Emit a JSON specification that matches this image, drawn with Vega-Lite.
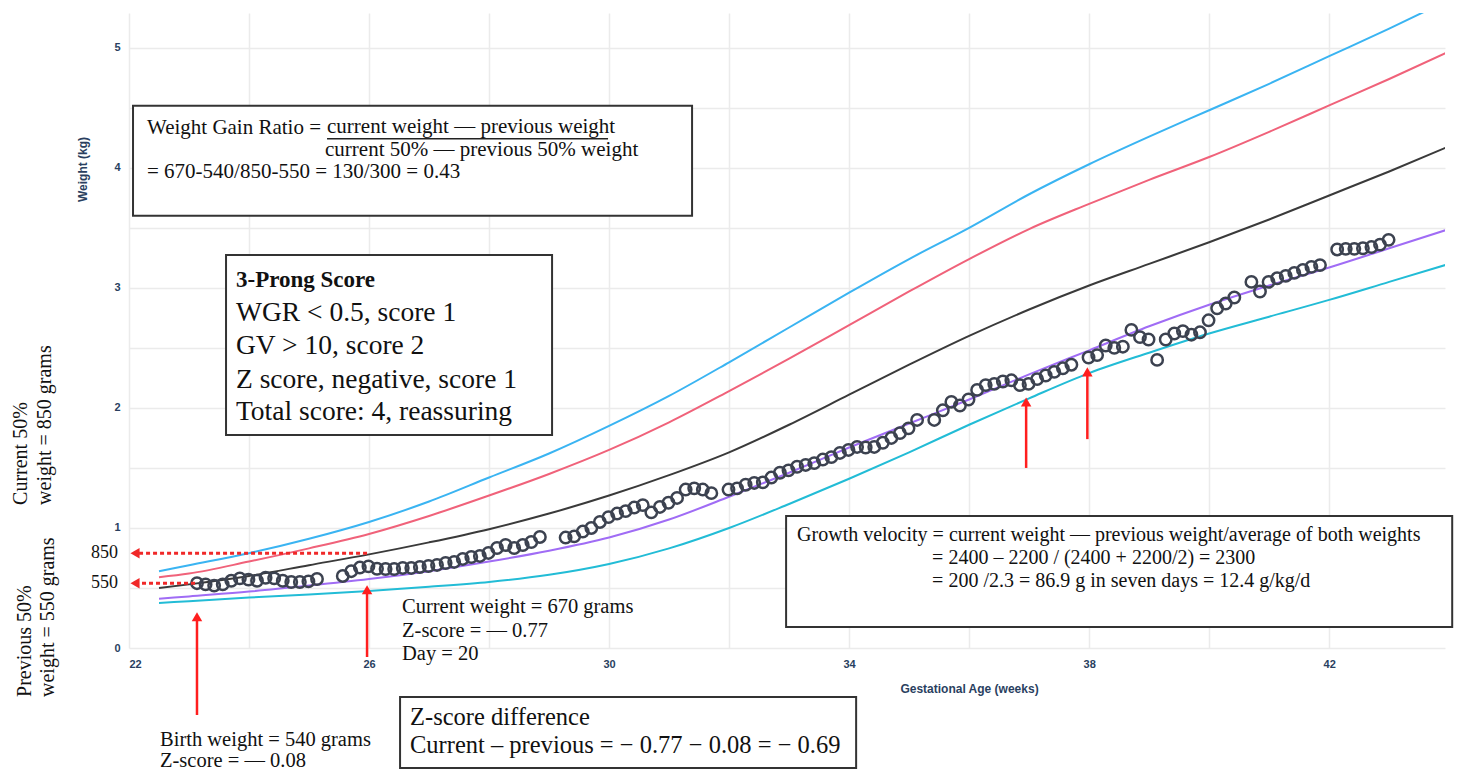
{
  "$schema": "https://vega.github.io/schema/vega-lite/v6.json",
  "width": 1316,
  "height": 635,
  "autosize": "none",
  "padding": {"left": 129, "top": 13, "right": 30, "bottom": 122},
  "background": "white",
  "config": {"view": {"stroke": null}},
  "datasets": {
    "pts": [
      {"w":23.133,"kg":0.54},{"w":23.276,"kg":0.53},{"w":23.419,"kg":0.52},{"w":23.562,"kg":0.53},{"w":23.704,"kg":0.56},{"w":23.847,"kg":0.58},{"w":23.99,"kg":0.57},{"w":24.133,"kg":0.56},{"w":24.276,"kg":0.585},{"w":24.419,"kg":0.58},{"w":24.562,"kg":0.56},{"w":24.704,"kg":0.55},{"w":24.847,"kg":0.55},{"w":24.99,"kg":0.555},{"w":25.133,"kg":0.575},
      {"w":25.562,"kg":0.6},{"w":25.704,"kg":0.64},{"w":25.847,"kg":0.67},{"w":25.99,"kg":0.68},{"w":26.133,"kg":0.66},{"w":26.276,"kg":0.658},{"w":26.419,"kg":0.658},{"w":26.562,"kg":0.667},{"w":26.704,"kg":0.667},{"w":26.847,"kg":0.675},{"w":26.99,"kg":0.683},{"w":27.133,"kg":0.692},{"w":27.276,"kg":0.708},{"w":27.419,"kg":0.717},{"w":27.562,"kg":0.742},{"w":27.704,"kg":0.758},{"w":27.847,"kg":0.767},{"w":27.99,"kg":0.792},{"w":28.133,"kg":0.833},{"w":28.276,"kg":0.858},{"w":28.419,"kg":0.833},{"w":28.562,"kg":0.858},{"w":28.704,"kg":0.883},{"w":28.847,"kg":0.925},
      {"w":29.276,"kg":0.92},{"w":29.419,"kg":0.93},{"w":29.562,"kg":0.97},{"w":29.704,"kg":1.0},{"w":29.847,"kg":1.05},{"w":29.99,"kg":1.09},{"w":30.133,"kg":1.12},{"w":30.276,"kg":1.14},{"w":30.419,"kg":1.17},{"w":30.562,"kg":1.19},{"w":30.704,"kg":1.13},{"w":30.847,"kg":1.175},{"w":30.99,"kg":1.21},{"w":31.133,"kg":1.25},{"w":31.276,"kg":1.32},{"w":31.419,"kg":1.33},{"w":31.562,"kg":1.32},{"w":31.704,"kg":1.29},
      {"w":31.99,"kg":1.32},{"w":32.133,"kg":1.33},{"w":32.276,"kg":1.36},{"w":32.419,"kg":1.375},{"w":32.562,"kg":1.38},{"w":32.704,"kg":1.42},{"w":32.847,"kg":1.46},{"w":32.99,"kg":1.48},{"w":33.133,"kg":1.51},{"w":33.276,"kg":1.525},{"w":33.419,"kg":1.54},{"w":33.562,"kg":1.57},{"w":33.704,"kg":1.59},{"w":33.847,"kg":1.625},{"w":33.99,"kg":1.65},{"w":34.133,"kg":1.675},{"w":34.276,"kg":1.67},{"w":34.419,"kg":1.675},{"w":34.562,"kg":1.71},{"w":34.704,"kg":1.75},{"w":34.847,"kg":1.79},{"w":34.99,"kg":1.83},{"w":35.133,"kg":1.9},
      {"w":35.419,"kg":1.9},{"w":35.562,"kg":1.98},{"w":35.704,"kg":2.05},{"w":35.847,"kg":2.02},{"w":35.99,"kg":2.07},{"w":36.133,"kg":2.15},{"w":36.276,"kg":2.19},{"w":36.419,"kg":2.2},{"w":36.562,"kg":2.22},{"w":36.704,"kg":2.23},{"w":36.847,"kg":2.19},{"w":36.99,"kg":2.2},{"w":37.133,"kg":2.24},{"w":37.276,"kg":2.27},{"w":37.419,"kg":2.3},{"w":37.562,"kg":2.33},{"w":37.704,"kg":2.36},
      {"w":37.99,"kg":2.42},{"w":38.133,"kg":2.44},{"w":38.276,"kg":2.52},{"w":38.419,"kg":2.5},{"w":38.562,"kg":2.51},{"w":38.704,"kg":2.65},{"w":38.847,"kg":2.59},{"w":38.99,"kg":2.57},{"w":39.133,"kg":2.4},{"w":39.276,"kg":2.57},{"w":39.419,"kg":2.62},{"w":39.562,"kg":2.64},{"w":39.704,"kg":2.61},{"w":39.847,"kg":2.63},{"w":39.99,"kg":2.73},{"w":40.133,"kg":2.83},{"w":40.276,"kg":2.87},{"w":40.419,"kg":2.92},
      {"w":40.704,"kg":3.05},{"w":40.847,"kg":2.97},{"w":40.99,"kg":3.05},{"w":41.133,"kg":3.08},{"w":41.276,"kg":3.1},{"w":41.419,"kg":3.125},{"w":41.562,"kg":3.15},{"w":41.704,"kg":3.175},{"w":41.847,"kg":3.19},
      {"w":42.133,"kg":3.32},{"w":42.276,"kg":3.325},{"w":42.419,"kg":3.325},{"w":42.562,"kg":3.33},{"w":42.704,"kg":3.34},{"w":42.847,"kg":3.36},{"w":42.99,"kg":3.4}
    ],
    "curves": [
      {"c":"p97","w":22.5,"kg":0.64},{"c":"p97","w":23,"kg":0.69},{"c":"p97","w":24,"kg":0.79},{"c":"p97","w":25,"kg":0.91},{"c":"p97","w":26,"kg":1.05},{"c":"p97","w":27,"kg":1.22},{"c":"p97","w":28,"kg":1.42},{"c":"p97","w":29,"kg":1.62},{"c":"p97","w":30,"kg":1.85},{"c":"p97","w":31,"kg":2.1},{"c":"p97","w":32,"kg":2.38},{"c":"p97","w":33,"kg":2.67},{"c":"p97","w":34,"kg":2.96},{"c":"p97","w":35,"kg":3.24},{"c":"p97","w":36,"kg":3.5},{"c":"p97","w":37,"kg":3.78},{"c":"p97","w":38,"kg":4.03},{"c":"p97","w":39,"kg":4.26},{"c":"p97","w":40,"kg":4.48},{"c":"p97","w":41,"kg":4.7},{"c":"p97","w":42,"kg":4.93},{"c":"p97","w":43,"kg":5.16},{"c":"p97","w":44,"kg":5.4},
      {"c":"p90","w":22.5,"kg":0.59},{"c":"p90","w":23,"kg":0.62},{"c":"p90","w":24,"kg":0.72},{"c":"p90","w":25,"kg":0.83},{"c":"p90","w":26,"kg":0.95},{"c":"p90","w":27,"kg":1.1},{"c":"p90","w":28,"kg":1.27},{"c":"p90","w":29,"kg":1.45},{"c":"p90","w":30,"kg":1.65},{"c":"p90","w":31,"kg":1.88},{"c":"p90","w":32,"kg":2.14},{"c":"p90","w":33,"kg":2.41},{"c":"p90","w":34,"kg":2.69},{"c":"p90","w":35,"kg":2.97},{"c":"p90","w":36,"kg":3.24},{"c":"p90","w":37,"kg":3.49},{"c":"p90","w":38,"kg":3.7},{"c":"p90","w":39,"kg":3.9},{"c":"p90","w":40,"kg":4.09},{"c":"p90","w":41,"kg":4.3},{"c":"p90","w":42,"kg":4.52},{"c":"p90","w":43,"kg":4.74},{"c":"p90","w":44,"kg":4.97},
      {"c":"p50","w":22.5,"kg":0.5},{"c":"p50","w":23,"kg":0.53},{"c":"p50","w":24,"kg":0.6},{"c":"p50","w":25,"kg":0.69},{"c":"p50","w":26,"kg":0.78},{"c":"p50","w":27,"kg":0.88},{"c":"p50","w":28,"kg":0.99},{"c":"p50","w":29,"kg":1.12},{"c":"p50","w":30,"kg":1.27},{"c":"p50","w":31,"kg":1.44},{"c":"p50","w":32,"kg":1.63},{"c":"p50","w":33,"kg":1.86},{"c":"p50","w":34,"kg":2.11},{"c":"p50","w":35,"kg":2.36},{"c":"p50","w":36,"kg":2.6},{"c":"p50","w":37,"kg":2.82},{"c":"p50","w":38,"kg":3.02},{"c":"p50","w":39,"kg":3.2},{"c":"p50","w":40,"kg":3.38},{"c":"p50","w":41,"kg":3.57},{"c":"p50","w":42,"kg":3.77},{"c":"p50","w":43,"kg":3.97},{"c":"p50","w":44,"kg":4.18},
      {"c":"p10","w":22.5,"kg":0.41},{"c":"p10","w":23,"kg":0.43},{"c":"p10","w":24,"kg":0.47},{"c":"p10","w":25,"kg":0.52},{"c":"p10","w":26,"kg":0.575},{"c":"p10","w":27,"kg":0.64},{"c":"p10","w":28,"kg":0.72},{"c":"p10","w":29,"kg":0.81},{"c":"p10","w":30,"kg":0.92},{"c":"p10","w":31,"kg":1.07},{"c":"p10","w":32,"kg":1.26},{"c":"p10","w":33,"kg":1.46},{"c":"p10","w":34,"kg":1.67},{"c":"p10","w":35,"kg":1.87},{"c":"p10","w":36,"kg":2.07},{"c":"p10","w":37,"kg":2.28},{"c":"p10","w":38,"kg":2.48},{"c":"p10","w":39,"kg":2.68},{"c":"p10","w":40,"kg":2.86},{"c":"p10","w":41,"kg":3.02},{"c":"p10","w":42,"kg":3.17},{"c":"p10","w":43,"kg":3.33},{"c":"p10","w":44,"kg":3.49},
      {"c":"p3","w":22.5,"kg":0.375},{"c":"p3","w":23,"kg":0.39},{"c":"p3","w":24,"kg":0.42},{"c":"p3","w":25,"kg":0.445},{"c":"p3","w":26,"kg":0.475},{"c":"p3","w":27,"kg":0.51},{"c":"p3","w":28,"kg":0.55},{"c":"p3","w":29,"kg":0.61},{"c":"p3","w":30,"kg":0.7},{"c":"p3","w":31,"kg":0.83},{"c":"p3","w":32,"kg":1.0},{"c":"p3","w":33,"kg":1.2},{"c":"p3","w":34,"kg":1.41},{"c":"p3","w":35,"kg":1.63},{"c":"p3","w":36,"kg":1.86},{"c":"p3","w":37,"kg":2.08},{"c":"p3","w":38,"kg":2.29},{"c":"p3","w":39,"kg":2.46},{"c":"p3","w":40,"kg":2.62},{"c":"p3","w":41,"kg":2.76},{"c":"p3","w":42,"kg":2.9},{"c":"p3","w":43,"kg":3.05},{"c":"p3","w":44,"kg":3.2}
    ]
  },
  "encoding": {
    "x": {
      "field": "w", "type": "quantitative",
      "scale": {"domain": [22, 43.93], "nice": false, "zero": false},
      "axis": {
        "values": [22, 24, 26, 28, 30, 32, 34, 36, 38, 40, 42],
        "labelExpr": "(datum.value - 22) % 4 === 0 ? format(datum.value, 'd') : ''",
        "grid": true, "gridColor": "#ebebeb", "gridWidth": 1.5,
        "ticks": false, "domain": false,
        "labelFont": "Liberation Sans", "labelFontWeight": "bold", "labelFontSize": 11, "labelColor": "#2a3f5f", "labelPadding": 10,
        "title": "Gestational Age (weeks)", "titleFont": "Liberation Sans", "titleFontWeight": "bold", "titleFontSize": 12, "titleColor": "#2a3f5f",
        "titleX": 840, "titleY": 40, "titleAlign": "center", "titleBaseline": "middle"
      }
    },
    "y": {
      "field": "kg", "type": "quantitative",
      "scale": {"domain": [0, 5.29], "nice": false, "zero": false},
      "axis": {
        "values": [0, 0.5, 1, 1.5, 2, 2.5, 3, 3.5, 4, 4.5, 5],
        "labelExpr": "datum.value % 1 === 0 ? format(datum.value, 'd') : ''",
        "grid": true, "gridColor": "#ebebeb", "gridWidth": 1.5,
        "ticks": false, "domain": false,
        "labelFont": "Liberation Sans", "labelFontWeight": "bold", "labelFontSize": 11, "labelColor": "#2a3f5f", "labelPadding": 9,
        "title": "Weight (kg)", "titleFont": "Liberation Sans", "titleFontWeight": "bold", "titleFontSize": 12, "titleColor": "#2a3f5f",
        "titleAngle": 270, "titleX": -47, "titleY": 156, "titleAlign": "center", "titleBaseline": "middle"
      }
    }
  },
  "layer": [
    {
      "data": {"name": "curves"},
      "mark": {"type": "line", "interpolate": "monotone", "strokeWidth": 2, "clip": true},
      "encoding": {
        "color": {"field": "c", "type": "nominal", "legend": null,
          "scale": {"domain": ["p97", "p90", "p50", "p10", "p3"], "range": ["#3ab4f2", "#f0627a", "#3a3a3a", "#a06cf5", "#22bcd6"]}},
        "detail": {"field": "c"}
      }
    },
    {
      "data": {"name": "pts"},
      "mark": {"type": "point", "shape": "circle", "filled": false, "size": 130, "strokeWidth": 2.5, "color": "#3c4250", "opacity": 1}
    },
    {
      "data": {"values": [
        {"w": 25.967, "w2": 22.12, "kg": 0.79, "kg2": 0.79},
        {"w": 23.1, "w2": 22.12, "kg": 0.54, "kg2": 0.54}
      ]},
      "mark": {"type": "rule", "color": "#f02828", "strokeWidth": 3, "strokeDash": [4, 3]},
      "encoding": {"x2": {"field": "w2"}, "y2": {"field": "kg2"}}
    },
    {
      "data": {"values": [
        {"w": 23.133, "w2": 23.133, "kg": -0.558, "kg2": 0.25},
        {"w": 25.967, "w2": 25.967, "kg": -0.075, "kg2": 0.475},
        {"w": 36.95, "w2": 36.95, "kg": 1.5, "kg2": 2.04},
        {"w": 37.97, "w2": 37.97, "kg": 1.74, "kg2": 2.29}
      ]},
      "mark": {"type": "rule", "color": "#ff1e1e", "strokeWidth": 2.5},
      "encoding": {"x2": {"field": "w2"}, "y2": {"field": "kg2"}}
    },
    {
      "data": {"values": [
        {"w": 23.133, "kg": 0.26},
        {"w": 25.967, "kg": 0.485},
        {"w": 36.95, "kg": 2.05},
        {"w": 37.97, "kg": 2.3}
      ]},
      "mark": {"type": "point", "shape": "triangle-up", "filled": true, "size": 110, "color": "#ff1e1e", "opacity": 1}
    },
    {
      "data": {"values": [
        {"w": 22.1, "kg": 0.79},
        {"w": 22.1, "kg": 0.54}
      ]},
      "mark": {"type": "point", "shape": "triangle-left", "filled": true, "size": 110, "color": "#f02828", "opacity": 1}
    },
    {
      "data": {"values": [
        {"w": 22.067, "w2": 31.383, "kg": 4.517, "kg2": 3.6},
        {"w": 23.617, "w2": 29.05, "kg": 3.275, "kg2": 1.775},
        {"w": 32.95, "w2": 44.05, "kg": 1.1, "kg2": 0.175},
        {"w": 26.517, "w2": 34.117, "kg": -0.408, "kg2": -1.0}
      ]},
      "mark": {"type": "rect", "fill": "white", "stroke": "#333333", "strokeWidth": 2},
      "encoding": {"x2": {"field": "w2"}, "y2": {"field": "kg2"}}
    },
    {
      "data": {"values": [
        {"w": 25.3, "w2": 29.983, "kg": 4.242, "kg2": 4.242}
      ]},
      "mark": {"type": "rule", "color": "#222222", "strokeWidth": 1.5},
      "encoding": {"x2": {"field": "w2"}, "y2": {"field": "kg2"}}
    },
    {
      "data": {"values": [
        {"w": 22.3, "kg": 4.333, "t": "Weight  Gain Ratio ="},
        {"w": 25.3, "kg": 4.342, "t": "current weight — previous weight"},
        {"w": 25.267, "kg": 4.15, "t": "current 50% — previous 50% weight"},
        {"w": 22.3, "kg": 3.967, "t": "= 670-540/850-550 = 130/300 = 0.43"}
      ]},
      "mark": {"type": "text", "font": "Liberation Serif", "fontSize": 21, "align": "left", "baseline": "middle", "color": "#111111"},
      "encoding": {"text": {"field": "t"}}
    },
    {
      "data": {"values": [
        {"w": 23.783, "kg": 3.067, "t": "3-Prong Score"}
      ]},
      "mark": {"type": "text", "font": "Liberation Serif", "fontSize": 23, "fontWeight": "bold", "align": "left", "baseline": "middle", "color": "#111111"},
      "encoding": {"text": {"field": "t"}}
    },
    {
      "data": {"values": [
        {"w": 23.783, "kg": 2.792, "t": "WGR < 0.5, score 1"},
        {"w": 23.783, "kg": 2.517, "t": "GV > 10, score 2"},
        {"w": 23.783, "kg": 2.233, "t": "Z score, negative, score 1"},
        {"w": 23.783, "kg": 1.967, "t": "Total score: 4, reassuring"}
      ]},
      "mark": {"type": "text", "font": "Liberation Serif", "fontSize": 27.5, "align": "left", "baseline": "middle", "color": "#111111"},
      "encoding": {"text": {"field": "t"}}
    },
    {
      "data": {"values": [
        {"w": 33.133, "kg": 0.942, "t": "Growth velocity = current weight — previous weight/average of both weights"},
        {"w": 35.383, "kg": 0.75, "t": "= 2400 – 2200 / (2400 + 2200/2) = 2300"},
        {"w": 35.383, "kg": 0.558, "t": "= 200 /2.3 = 86.9 g in seven days = 12.4 g/kg/d"}
      ]},
      "mark": {"type": "text", "font": "Liberation Serif", "fontSize": 20, "align": "left", "baseline": "middle", "color": "#111111"},
      "encoding": {"text": {"field": "t"}}
    },
    {
      "data": {"values": [
        {"w": 26.683, "kg": -0.583, "t": "Z-score difference"},
        {"w": 26.683, "kg": -0.817, "t": "Current – previous = − 0.77 − 0.08 = − 0.69"}
      ]},
      "mark": {"type": "text", "font": "Liberation Serif", "fontSize": 24.5, "align": "left", "baseline": "middle", "color": "#111111"},
      "encoding": {"text": {"field": "t"}}
    },
    {
      "data": {"values": [
        {"w": 26.55, "kg": 0.342, "t": "Current weight = 670 grams"},
        {"w": 26.55, "kg": 0.142, "t": "Z-score = — 0.77"},
        {"w": 26.55, "kg": -0.05, "t": "Day = 20"},
        {"w": 22.517, "kg": -0.767, "t": "Birth weight = 540 grams"},
        {"w": 22.517, "kg": -0.94, "t": "Z-score = — 0.08"}
      ]},
      "mark": {"type": "text", "font": "Liberation Serif", "fontSize": 20.5, "align": "left", "baseline": "middle", "color": "#111111"},
      "encoding": {"text": {"field": "t"}}
    },
    {
      "data": {"values": [
        {"w": 21.817, "kg": 0.792, "t": "850"},
        {"w": 21.817, "kg": 0.542, "t": "550"}
      ]},
      "mark": {"type": "text", "font": "Liberation Serif", "fontSize": 18, "align": "right", "baseline": "middle", "color": "#111111"},
      "encoding": {"text": {"field": "t"}}
    },
    {
      "data": {"values": [
        {"w": 20.2, "kg": 1.192, "t": "Current 50%"},
        {"w": 20.6, "kg": 1.192, "t": "weight = 850 grams"},
        {"w": 20.27, "kg": -0.408, "t": "Previous 50%"},
        {"w": 20.65, "kg": -0.408, "t": "weight = 550 grams"}
      ]},
      "mark": {"type": "text", "font": "Liberation Serif", "fontSize": 20, "align": "left", "baseline": "middle", "angle": 270, "color": "#111111"},
      "encoding": {"text": {"field": "t"}}
    }
  ]
}
